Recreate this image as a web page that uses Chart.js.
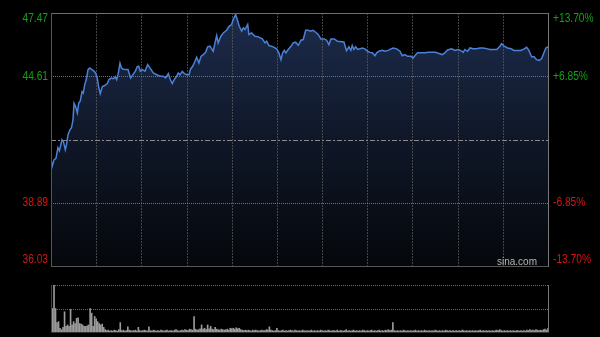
<!DOCTYPE html>
<html><head><meta charset="utf-8">
<script src="https://cdn.jsdelivr.net/npm/chart.js"></script>
<style>
html,body{margin:0;padding:0;background:#000;}
#wrap{position:relative;width:600px;height:337px;background:#000;overflow:hidden;}
canvas{position:absolute;left:0;}
#c1{top:0;}
#c2{top:270px;}
</style></head>
<body><div id="wrap"><canvas id="c1" width="600" height="270"></canvas><canvas id="c2" width="600" height="67"></canvas></div>
<script>
// minutes since the open (continuous trading-time axis, 330 minutes)
const times = [
0,0.7,2.0,3.3,4.6,5.6,7.3,8.3,9.5,10.3,
11.3,12.6,13.6,14.6,15.3,16.4,17.5,18.4,19.4,20.6,
21.4,22.4,23.4,24.6,25.7,27.2,28.5,29.7,30.7,31.7,
32.7,34.1,35.6,37.4,38.5,40.0,41.6,42.7,43.6,44.5,
45.8,46.8,47.8,49.3,51.1,52.9,54.4,56.0,57.3,58.2,
59.3,60.6,62.4,64.2,65.7,67.9,70.2,72.4,74.5,76.1,
77.9,79.2,80.5,81.8,83.4,84.5,85.6,87.2,88.5,90.1,
91.6,92.7,94.1,95.6,96.7,98.2,99.6,101.1,102.7,104.0,
105.5,106.7,107.7,108.9,110.0,111.0,112.8,114.4,116.6,118.2,
119.9,121.0,122.6,124.0,125.0,126.6,127.7,128.8,130.6,131.4,
133.2,135.4,137.6,140.3,142.1,143.2,144.7,147.6,149.8,151.3,
152.7,153.8,154.9,156.0,157.5,159.1,160.8,162.4,164.2,166.0,
167.5,169.1,170.8,172.4,174.1,175.7,177.4,179.2,181.4,183.0,
184.5,185.9,188.1,190.3,194.5,196.2,197.8,199.1,200.0,201.1,
202.3,203.6,205.1,206.6,208.4,210.2,211.8,213.3,215.1,216.2,
217.7,219.9,221.7,223.9,225.7,227.2,229.5,231.7,233.2,235.0,
236.8,239.0,240.5,241.6,243.4,245.6,248.3,250.5,253.1,255.4,
257.6,259.7,261.5,263.3,266.0,268.2,270.4,272.6,273.7,274.8,
276.6,278.2,280.3,282.6,284.8,287.0,289.2,291.4,293.6,295.9,
298.1,299.2,300.9,303.2,305.4,307.5,309.8,312.0,314.2,315.8,
317.3,319.1,320.8,322.4,324.1,325.7,327.3,328.6,330.0];
const prices = [
40.88,40.52,40.83,40.90,41.38,41.24,41.74,41.65,41.29,41.51,
41.97,42.19,42.28,42.64,43.39,43.23,42.96,43.39,43.48,43.91,
43.85,44.23,44.46,44.91,44.98,44.91,44.84,44.75,44.53,44.10,
43.82,44.14,44.19,44.28,44.46,44.53,44.50,44.59,44.46,44.68,
45.20,44.98,44.94,44.91,44.91,44.53,44.68,44.84,45.05,45.07,
44.84,44.91,44.84,45.14,44.99,44.76,44.68,44.61,44.61,44.53,
44.73,44.46,44.28,44.46,44.61,44.76,44.68,44.83,44.73,44.68,
44.68,44.94,45.06,45.29,45.47,45.21,45.51,45.59,45.69,45.94,
45.97,45.85,45.74,46.12,46.45,46.12,46.42,46.57,46.69,46.87,
46.95,47.18,47.40,47.10,46.87,46.65,46.80,46.72,46.95,46.50,
46.57,46.42,46.39,46.30,46.12,46.19,46.00,45.94,45.85,45.67,
45.36,45.67,45.78,45.67,45.82,45.94,46.12,46.15,46.01,46.24,
46.27,46.69,46.69,46.65,46.69,46.60,46.50,46.30,46.30,46.24,
46.04,46.30,46.30,46.19,46.16,45.77,45.94,45.78,46.00,45.82,
45.94,45.82,45.85,45.89,45.85,45.74,45.69,45.67,45.54,45.67,
45.74,45.78,45.74,45.78,45.85,45.89,45.85,45.74,45.54,45.59,
45.51,45.51,45.44,45.54,45.67,45.67,45.67,45.69,45.69,45.69,
45.64,45.59,45.67,45.80,45.85,45.78,45.82,45.75,45.69,45.82,
45.74,45.89,45.85,45.85,45.89,45.89,45.86,45.82,45.82,45.82,
45.97,46.08,45.97,45.89,45.85,45.78,45.78,45.78,45.85,45.92,
45.78,45.49,45.49,45.36,45.33,45.40,45.67,45.89,45.94];
// per-minute volume (relative units, panel top = 100), minute 0..330
const volumes = [
100,50,100,50,20,22,8,5,10,43,
12,15,12,48,15,22,18,29,30,18,
17,15,12,12,13,15,50,40,12,33,
28,22,18,15,17,10,5,3,4,2,
3,2,4,3,2,5,20,3,4,2,
3,11,4,3,2,3,4,2,10,3,
2,3,4,3,2,11,3,2,4,3,
2,3,2,4,3,2,3,4,2,3,
3,2,4,5,3,2,3,4,3,5,
4,3,6,5,4,33,6,4,5,7,
15,6,8,5,15,7,12,6,5,10,
6,5,4,6,5,4,5,6,4,8,
7,8,6,9,7,8,5,4,3,4,
3,4,3,2,4,3,4,3,2,3,
4,3,3,5,4,11,4,3,2,3,
8,3,2,3,4,2,3,2,3,4,
3,2,4,3,2,3,2,4,3,2,
3,2,3,4,2,3,2,3,2,4,
3,2,3,2,4,3,2,3,3,2,
4,2,3,3,2,3,5,2,3,2,
3,4,2,3,2,3,2,4,3,2,
3,2,3,4,2,3,2,3,4,2,
3,2,4,3,5,3,4,20,3,2,
3,2,3,2,4,3,2,3,2,3,
2,3,4,2,3,2,3,2,4,3,
2,3,2,3,2,4,3,2,3,2,
3,2,4,3,2,3,2,3,2,3,
2,3,2,4,3,2,3,2,3,2,
3,2,3,2,3,4,2,3,2,3,
2,3,2,3,2,3,4,3,5,3,
2,3,2,3,2,3,2,3,2,3,
3,2,3,2,3,2,4,3,5,3,
4,3,5,4,3,4,3,5,6,4,
8];
const prevClose = 41.75;
const priceTicks = [36.03, 38.89, 41.75, 44.61, 47.47];
const priceLabels = ['36.03', '38.89', '', '44.61', '47.47'];
const pctLabels = ['-13.70%', '-6.85%', '', '+6.85%', '+13.70%'];
const gridMinutes = [30, 60, 90, 120, 150, 180, 210, 240, 270, 300];
const volumeMax = 100;

const GREEN = '#14a014', RED = '#d81414';
const FONT = '12px Arial, "Liberation Sans", sans-serif';
const NARROW = 0.85;

function hline(ctx, x1, x2, y, color, dash) {
  ctx.save(); ctx.strokeStyle = color; ctx.lineWidth = 1; ctx.setLineDash(dash || []);
  ctx.beginPath(); ctx.moveTo(x1, y); ctx.lineTo(x2, y); ctx.stroke(); ctx.restore();
}
function vline(ctx, x, y1, y2, color, dash) {
  ctx.save(); ctx.strokeStyle = color; ctx.lineWidth = 1; ctx.setLineDash(dash || []);
  ctx.beginPath(); ctx.moveTo(x, y1); ctx.lineTo(x, y2); ctx.stroke(); ctx.restore();
}
function narrowText(ctx, text, x, y, align) {
  ctx.save();
  ctx.translate(x, y); ctx.scale(NARROW, 1);
  ctx.textAlign = align; ctx.fillText(text, 0, 0);
  ctx.restore();
}

const priceGrid = {
  id: 'priceGrid',
  afterDatasetDraw(chart, args) {
    if (args.index !== 0) return; // grid goes over the area fill, under the line
    const {ctx, chartArea: a, scales: {x, y}} = chart;
    gridMinutes.forEach(m => {
      const px = Math.round(x.getPixelForValue(m)) + 0.5;
      vline(ctx, px, a.top, a.bottom, 'rgba(90,90,90,0.75)', [2, 1]);
    });
    priceTicks.forEach(v => {
      if (v === priceTicks[0] || v === priceTicks[priceTicks.length - 1]) return;
      const py = Math.round(y.getPixelForValue(v)) + 0.5;
      if (v === prevClose) hline(ctx, a.left, a.right, py, '#8a8a8a', [5, 2, 2, 2]);
      else hline(ctx, a.left, a.right, py, '#727272', [1, 1]);
    });
  },
  afterDraw(chart) {
    const {ctx, chartArea: a, scales: {y}} = chart;
    hline(ctx, a.left, a.right + 1, Math.round(a.top) + 0.5, '#6e6e6e');
    hline(ctx, a.left, a.right + 1, Math.round(a.bottom) + 0.5, '#555');
    vline(ctx, Math.round(a.left) + 0.5, a.top, a.bottom + 1, '#555');
    vline(ctx, Math.round(a.right) + 0.5, a.top, a.bottom + 1, '#777');
    ctx.save();
    ctx.font = FONT; ctx.textBaseline = 'middle';
    priceTicks.forEach((v, i) => {
      let py = y.getPixelForValue(v);
      py = Math.min(Math.max(py, a.top + 6), a.bottom - 6);
      ctx.fillStyle = v > prevClose ? GREEN : RED;
      if (priceLabels[i]) narrowText(ctx, priceLabels[i], a.left - 3, py, 'right');
      if (pctLabels[i]) narrowText(ctx, pctLabels[i], a.right + 5, py, 'left');
    });
    ctx.font = '10px Arial, "Liberation Sans", sans-serif';
    ctx.fillStyle = '#b4b4b4'; ctx.textAlign = 'right'; ctx.textBaseline = 'alphabetic';
    ctx.fillText('sina.com', a.right - 11, a.bottom - 1);
    ctx.restore();
  }
};

const fillGradient = (c) => {
  const a = c.chart.chartArea;
  if (!a) return '#101a2e';
  const g = c.chart.ctx.createLinearGradient(0, a.top, 0, a.bottom);
  g.addColorStop(0, '#1d2c4c');
  g.addColorStop(0.5, '#0f1728');
  g.addColorStop(1, '#05070b');
  return g;
};
const pricePoints = times.map((t, i) => ({x: t, y: prices[i]}));

new Chart(document.getElementById('c1'), {
  type: 'line',
  data: {
    datasets: [
      { // area under the price line
        data: pricePoints, order: 2,
        borderWidth: 0, borderColor: 'rgba(0,0,0,0)',
        pointRadius: 0, tension: 0, fill: 'start', backgroundColor: fillGradient
      },
      { // price line
        data: pricePoints, order: 1,
        borderColor: '#4b80d6', borderWidth: 1.5,
        pointRadius: 0, tension: 0, fill: false
      }
    ]
  },
  options: {
    responsive: false, animation: false, devicePixelRatio: 1,
    layout: {padding: {left: 51, right: 52, top: 13, bottom: 4}},
    plugins: {legend: {display: false}, tooltip: {enabled: false}},
    scales: {
      x: {type: 'linear', min: 0, max: 330, display: false},
      y: {min: priceTicks[0], max: priceTicks[priceTicks.length - 1], display: false}
    }
  },
  plugins: [priceGrid]
});

const volGrid = {
  id: 'volGrid',
  beforeDatasetsDraw(chart) {
    const {ctx, chartArea: a, scales: {y}} = chart;
    hline(ctx, a.left, a.right, Math.round(y.getPixelForValue(volumeMax)) + 0.5, '#6a6a6a', [1, 1]);
    hline(ctx, a.left, a.right, Math.round(y.getPixelForValue(volumeMax / 2)) + 0.5, '#6a6a6a', [1, 1]);
  },
  afterDraw(chart) {
    const {ctx, chartArea: a} = chart;
    vline(ctx, Math.round(a.right) + 0.5, a.top, a.bottom + 1, '#777');
    vline(ctx, Math.round(a.left) + 0.5, a.top, a.bottom + 1, '#444');
    hline(ctx, a.left, a.right + 1, Math.round(a.bottom) + 0.5, '#333');
  }
};

new Chart(document.getElementById('c2'), {
  type: 'bar',
  data: {
    datasets: [{
      data: volumes.map((v, i) => ({x: i, y: v})),
      backgroundColor: '#9a9a9a',
      barThickness: 1,
      borderWidth: 0
    }]
  },
  options: {
    responsive: false, animation: false, devicePixelRatio: 1,
    layout: {padding: {left: 51, right: 52, top: 15, bottom: 5}},
    plugins: {legend: {display: false}, tooltip: {enabled: false}},
    scales: {
      x: {type: 'linear', min: 0, max: 330, display: false, offset: false},
      y: {min: 0, max: volumeMax, display: false}
    }
  },
  plugins: [volGrid]
});
</script>
</body></html>
